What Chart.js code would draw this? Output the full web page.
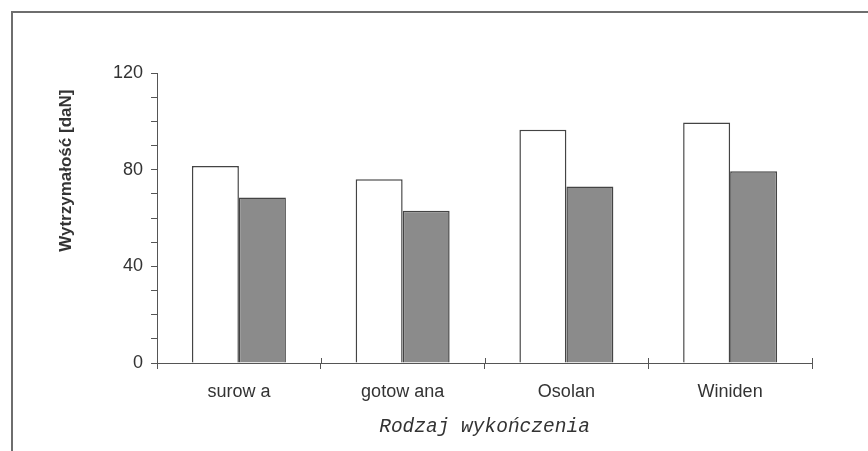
<!DOCTYPE html>
<html>
<head>
<meta charset="utf-8">
<script src="https://cdn.jsdelivr.net/npm/chart.js@4"></script>
<style>
  html, body { margin: 0; padding: 0; background: #fff; }
  #wrap { position: relative; width: 868px; height: 451px; overflow: hidden; }
  #frame { position: absolute; left: 11px; top: 11px; width: 900px; height: 500px;
           border-left: 2px solid #6e6e6e; border-top: 2px solid #6e6e6e; box-sizing: border-box; }
  canvas { position: absolute; left: 0; top: 0; }
</style>
</head>
<body>
<div id="wrap">
  <div id="frame"></div>
  <canvas id="c" width="868" height="451"></canvas>
</div>
<script>
const categories = ["surow a", "gotow ana", "Osolan", "Winiden"];
const seriesWhite = [81.5, 76.0, 96.5, 99.5];
const seriesGray = [68.5, 63.0, 73.0, 79.3];
const yTickLabels = [0, 40, 80, 120];
const yTitle = "Wytrzymałość [daN]";
const xTitle = "Rodzaj wykończenia";

const axisColor = "#555";
const textColor = "#333";

// small upward part of the category-boundary ticks on the x axis,
// and the y-axis title (placed like the original, above the axis centre)
const extras = {
  id: "extras",
  afterDatasetsDraw(chart) {
    const xs = chart.scales.x, ys = chart.scales.y;
    const ctx = chart.ctx;
    const y0 = ys.getPixelForValue(0);
    ctx.save();
    ctx.strokeStyle = axisColor;
    ctx.lineWidth = 1;
    const n = categories.length;
    const step = (xs.right - xs.left) / n;
    for (let i = 1; i <= n; i++) {
      const x = Math.round(xs.left + step * i) + 0.5;
      ctx.beginPath();
      ctx.moveTo(x, y0 - 5);
      ctx.lineTo(x, y0);
      ctx.stroke();
    }
    // y title
    ctx.fillStyle = textColor;
    ctx.font = "bold 17px 'Liberation Sans', Arial, sans-serif";
    ctx.textAlign = "center";
    ctx.textBaseline = "middle";
    ctx.translate(66, ys.getPixelForValue(80) + 1);
    ctx.rotate(-Math.PI / 2);
    ctx.fillText(yTitle, 0, 0);
    ctx.restore();
  }
};

new Chart(document.getElementById("c"), {
  type: "bar",
  data: {
    labels: categories,
    datasets: [
      { data: seriesWhite, backgroundColor: "#ffffff", borderColor: "#444", borderWidth: 1.5,
        categoryPercentage: 0.574, barPercentage: 1.0 },
      { data: seriesGray, backgroundColor: "#8b8b8b", borderColor: "#444", borderWidth: 1.5,
        categoryPercentage: 0.574, barPercentage: 1.0 }
    ]
  },
  options: {
    responsive: false,
    animation: false,
    devicePixelRatio: 1,
    layout: { padding: { left: 105, right: 56, top: 73, bottom: 12 } },
    plugins: { legend: { display: false }, tooltip: { enabled: false } },
    scales: {
      x: {
        grid: { display: true, drawOnChartArea: false, drawTicks: true, tickLength: 6,
                color: axisColor, offset: true },
        border: { display: true, color: axisColor, width: 1 },
        ticks: { color: textColor, padding: 12,
                 font: { family: "'Liberation Sans', Arial, sans-serif", size: 18 } },
        title: { display: true, text: xTitle, color: textColor,
                 font: { family: "'Liberation Mono', 'Courier New', monospace", size: 19.5, style: "italic" },
                 padding: { top: 1, bottom: 0 } }
      },
      y: {
        min: 0, max: 120,
        grid: { display: true, drawOnChartArea: false, drawTicks: true, tickLength: 6, color: axisColor },
        border: { display: true, color: axisColor, width: 1 },
        ticks: {
          stepSize: 10, color: textColor, padding: 8, autoSkip: false,
          font: { family: "'Liberation Sans', Arial, sans-serif", size: 18 },
          callback: (v) => yTickLabels.includes(v) ? String(v) : ""
        },
        title: { display: false }
      }
    }
  },
  plugins: [extras]
});
</script>
</body>
</html>
